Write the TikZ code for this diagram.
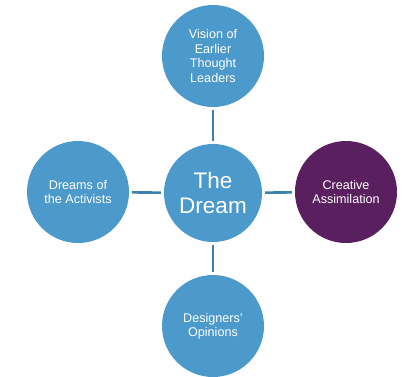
\documentclass[tikz,border=0pt]{standalone}
\usepackage{fontspec}
\setmainfont{Liberation Sans}
\definecolor{dreamblue}{HTML}{4C9ACB}
\definecolor{linkblue}{HTML}{3D7FAE}
\definecolor{dreampurple}{HTML}{5A1F5F}
\begin{document}
\begin{tikzpicture}[x=1pt,y=-1pt,
    bubble/.style={circle,fill=dreamblue,text=white,minimum size=102pt,inner sep=0pt,align=center,
      font=\fontsize{12.6}{14.5}\selectfont},
    link/.style={draw=linkblue,line width=2.6pt,shorten <=3pt,shorten >=3pt}]
        \useasboundingbox (0,0) rectangle (408,376);

        \node [bubble,minimum size=98pt,font=\fontsize{22.5}{25}\selectfont] (D0) at (213,193) {The\\Dream};
        \node [bubble] (V1) at (213,56) {Vision of\\Earlier\\Thought\\Leaders};
        \node [bubble] (A1) at (78,192) {Dreams of\\the Activists};
        \node [bubble,fill=dreampurple] (C1) at (346,192) {Creative\\Assimilation};
        \node [bubble] (O1) at (213,326) {Designers'\\Opinions};

        % spokes out of the middle
        \draw[link] (D0) -- (V1);
        \draw[link] (D0) -- (O1);
        \draw[link] (D0) -- (A1);
        \draw[link] (D0) -- (C1);
    \end{tikzpicture}
\end{document}
